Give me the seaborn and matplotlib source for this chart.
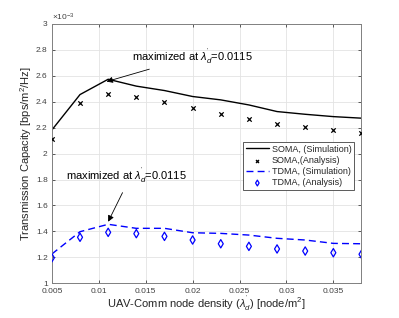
import numpy as np
import pandas as pd
import matplotlib
matplotlib.use("Agg")
import matplotlib.pyplot as plt
import seaborn as sns

# data (capacity in units of 1e-3 bps/m^2/Hz)
density = [0.005, 0.008, 0.011, 0.014, 0.017, 0.020, 0.023, 0.026, 0.029, 0.032, 0.035, 0.038]
soma_sim = [2.182, 2.455, 2.573, 2.520, 2.486, 2.440, 2.414, 2.375, 2.324, 2.303, 2.285, 2.273]
soma_ana = [2.115, 2.393, 2.458, 2.440, 2.398, 2.350, 2.303, 2.265, 2.231, 2.203, 2.182, 2.162]
tdma_sim = [1.226, 1.398, 1.455, 1.424, 1.424, 1.390, 1.385, 1.372, 1.347, 1.334, 1.308, 1.305]
tdma_ana = [1.197, 1.355, 1.393, 1.383, 1.362, 1.334, 1.305, 1.285, 1.265, 1.249, 1.236, 1.224]
xticks = [0.005, 0.01, 0.015, 0.02, 0.025, 0.03, 0.035]
xtick_labels = ["0.005", "0.01", "0.015", "0.02", "0.025", "0.03", "0.035"]
yticks = [1, 1.2, 1.4, 1.6, 1.8, 2, 2.2, 2.4, 2.6, 2.8, 3]
ytick_labels = ["1", "1.2", "1.4", "1.6", "1.8", "2", "2.2", "2.4", "2.6", "2.8", "3"]

df = pd.DataFrame({"x": density, "soma_sim": soma_sim, "soma_ana": soma_ana,
                   "tdma_sim": tdma_sim, "tdma_ana": tdma_ana})

sns.set_theme(style="whitegrid")
plt.rcParams['font.family'] = ['Liberation Sans', 'DejaVu Sans']
plt.rcParams['mathtext.fontset'] = 'custom'
plt.rcParams['mathtext.rm'] = 'Liberation Sans'
plt.rcParams['mathtext.it'] = 'Liberation Sans:italic'

fig = plt.figure(figsize=(3.99, 3.18), dpi=100)
ax = fig.add_axes([0.130, 0.109, 0.776, 0.816])
ax.set_facecolor("white")

sns.lineplot(data=df, x="x", y="soma_sim", ax=ax, color="black", lw=1.0,
             label="SOMA, (Simulation)")
sns.scatterplot(data=df, x="x", y="soma_ana", ax=ax, color="black", marker="x",
                s=10, linewidth=0.9, label="SOMA,(Analysis)", zorder=3)
sns.lineplot(data=df, x="x", y="tdma_sim", ax=ax, color="#0000ff", lw=1.0,
             label="TDMA, (Simulation)")
ax.lines[-1].set_linestyle((0, (5, 3)))
sns.scatterplot(data=df, x="x", y="tdma_ana", ax=ax, marker="d", s=18,
                facecolor="none", edgecolor="#0000ff", linewidth=0.9,
                label="TDMA, (Analysis)", zorder=3)

ax.set_xlim(0.005, 0.038)
ax.set_ylim(1, 3)
ax.set_xticks(xticks)
ax.set_xticklabels(xtick_labels)
ax.set_yticks(yticks)
ax.set_yticklabels(ytick_labels)
ax.tick_params(labelsize=6, colors="#404040", length=2.5, direction="in", pad=3,
               top=True, right=True, bottom=True, left=True, width=0.6)
ax.grid(True, color="#e3e3e3", lw=0.6)
for sp in ax.spines.values():
    sp.set_color("#808080")
    sp.set_linewidth(0.7)

ax.set_xlabel("UAV-Comm node density ($\\lambda^{'}_{d}$) [node/m$^2$]", fontsize=8, color="#262626", labelpad=0)
ax.set_ylabel("Transmission Capacity [bps/m$^2$/Hz]", fontsize=8, color="#262626", labelpad=0)
ax.yaxis.set_label_coords(-0.058, 0.5)
ax.text(0.0, 1.005, "$\\times10^{-3}$", transform=ax.transAxes, fontsize=6, color="#404040",
        ha="left", va="bottom")

ax.annotate("maximized at $\\lambda^{'}_{d}$=0.0115", xy=(0.01083, 2.555), xytext=(0.0135, 2.676),
            fontsize=8, color="black", ha="left", va="bottom",
            arrowprops=dict(arrowstyle="-|>", color="black", lw=0.6, mutation_scale=9,
                            shrinkA=0, shrinkB=0))
ax.annotate("", xy=(0.0110, 1.475), xytext=(0.01253, 1.699),
            arrowprops=dict(arrowstyle="-|>", color="black", lw=0.6, mutation_scale=9,
                            shrinkA=0, shrinkB=0))
ax.text(0.00647, 1.755, "maximized at $\\lambda^{'}_{d}$=0.0115", fontsize=8, color="black",
        ha="left", va="bottom")

leg = ax.legend(loc="upper left", bbox_to_anchor=(0.617, 0.545), fontsize=6.5,
                frameon=True, fancybox=False, framealpha=1, edgecolor="#404040",
                borderpad=0.3, labelspacing=0.25, handlelength=2.6, handletextpad=0.3,
                borderaxespad=0, markerscale=0.7)
leg.get_frame().set_linewidth(0.6)

fig.savefig("out.png", dpi=100, facecolor="white")
